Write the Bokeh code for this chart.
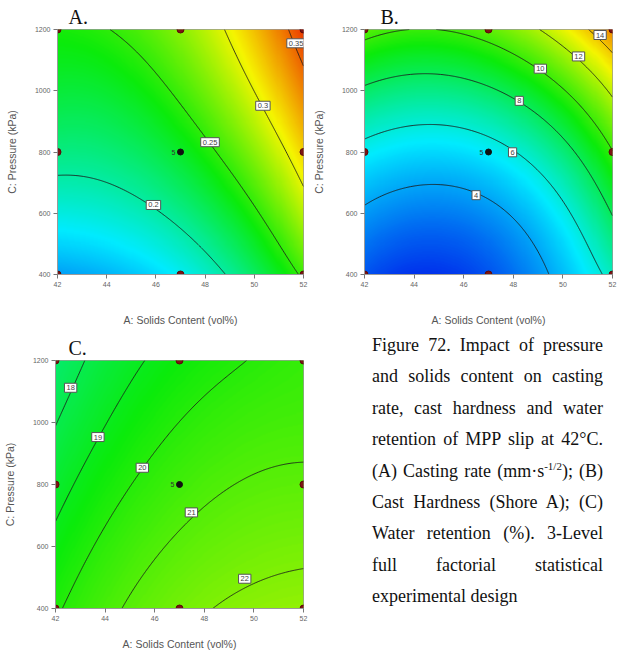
import numpy as np
from bokeh.plotting import figure
from bokeh.models import LinearColorMapper, FixedTicker, Div
from bokeh.layouts import column, row
from bokeh.embed import file_html
from bokeh.resources import INLINE
from bokeh.core.properties import value

# Factor settings of the response grids (A: solids content, C: pressure)
solids = [42, 44.5, 47, 49.5, 52]
pressure = [400, 600, 800, 1000, 1200]

# 3-level full factorial design points
design_solids = [42, 47, 52]
design_pressure = [400, 800, 1200]
center_runs = "5"

# Predicted responses, one row per pressure level (400 -> 1200 kPa)
casting_rate = [
    [0.150, 0.160, 0.178, 0.210, 0.254],
    [0.183, 0.192, 0.204, 0.240, 0.287],
    [0.209, 0.212, 0.232, 0.266, 0.315],
    [0.228, 0.232, 0.257, 0.290, 0.341],
    [0.243, 0.252, 0.275, 0.312, 0.364],
]
cast_hardness = [
    [2.4, 1.8, 2.3, 4.1, 6.4],
    [3.8, 3.1, 3.7, 5.2, 8.1],
    [5.6, 5.0, 5.6, 6.9, 9.95],
    [7.8, 7.2, 7.9, 9.4, 12.3],
    [10.5, 10.0, 10.6, 12.4, 15.2],
]
water_retention = [
    [19.85, 21.0, 21.6, 22.25, 22.35],
    [19.25, 20.45, 21.1, 21.65, 21.8],
    [18.6, 19.8, 20.5, 21.05, 21.15],
    [17.97, 19.18, 20.05, 20.5, 20.72],
    [17.35, 18.6, 19.4, 19.97, 20.35],
]

# Contour levels of each response
levels_a = [0.2, 0.25, 0.3, 0.35]
levels_b = [4, 6, 8, 10, 12, 14]
levels_c = [18, 19, 20, 21, 22]

x_ticks = [42, 44, 46, 48, 50, 52]
y_ticks = [400, 600, 800, 1000, 1200]

caption_lines = [
    "Figure 72. Impact of pressure",
    "and solids content on casting",
    "rate, cast hardness and water",
    "retention of MPP slip at 42°C.",
    "(A) Casting rate (mm·s<sup>-1/2</sup>); (B)",
    "Cast Hardness (Shore A); (C)",
    "Water retention (%). 3-Level",
    "full factorial statistical",
    "experimental design",
]

# blue -> cyan -> green -> yellow -> red ramp
anchors = [(0, 40, 235), (0, 235, 255), (10, 235, 10), (245, 245, 0), (235, 40, 0)]


def ramp(n=256):
    out = []
    for k in range(n):
        t = k / (n - 1) * (len(anchors) - 1)
        i = min(int(t), len(anchors) - 2)
        f = t - i
        c = [round(a + (b - a) * f) for a, b in zip(anchors[i], anchors[i + 1])]
        out.append("#%02x%02x%02x" % tuple(c))
    return out


PALETTE = ramp()


def surface(grid, n=241):
    """Smooth cubic response surface through the tabulated values."""
    z = np.asarray(grid, float)
    u = (np.asarray(solids) - 47) / 5
    v = (np.asarray(pressure) - 800) / 400
    U, V = np.meshgrid(u, v)

    def basis(U, V):
        return np.stack([U.ravel() ** i * V.ravel() ** j
                         for i in range(4) for j in range(4)], axis=1)

    coef, *_ = np.linalg.lstsq(basis(U, V), z.ravel(), rcond=None)
    xf = np.linspace(42, 52, n)
    yf = np.linspace(400, 1200, n)
    Uf, Vf = np.meshgrid((xf - 47) / 5, (yf - 800) / 400)
    zf = (basis(Uf, Vf) @ coef).reshape(Uf.shape)
    return xf, yf, zf


def panel(letter, grid, levels, label_xy, low, high, width, height,
          left, right, top, bottom, letter_dx, xlabel_standoff):
    p = figure(width=width, height=height, x_range=(42, 52), y_range=(400, 1200),
               output_backend="svg", toolbar_location=None,
               min_border_left=left, min_border_right=right,
               min_border_top=top, min_border_bottom=bottom)
    p.title.text = letter
    p.title.text_font = "Liberation Serif"
    p.title.text_font_size = "20px"
    p.title.text_font_style = "normal"
    p.title.text_color = "#111111"
    p.title.offset = letter_dx
    p.title.standoff = 3
    p.grid.visible = False
    p.outline_line_color = "#9a9a9a"
    p.background_fill_color = "white"
    p.border_fill_color = "white"

    xf, yf, zf = surface(grid)
    mapper = LinearColorMapper(palette=PALETTE, low=low, high=high)
    p.image(image=[zf], x=42, y=400, dw=10, dh=800, color_mapper=mapper)
    p.contour(xf, yf, zf, levels, line_color="#1c1c1c", line_width=1, line_alpha=0.85)

    # contour value tags
    p.text(x=[q[0] for q in label_xy], y=[q[1] for q in label_xy],
           text=[f"{lv:g}" for lv in levels],
           text_font=value("Liberation Sans"), text_font_size="7.5px",
           text_align="center", text_baseline="middle", text_color="#444444",
           background_fill_color="white", border_line_color="#555555",
           padding=2)

    # design points
    px = [a for c in design_pressure for a in design_solids]
    py = [c for c in design_pressure for a in design_solids]
    edge = [(a, c) for a, c in zip(px, py) if not (a == 47 and c == 800)]
    p.scatter([e[0] for e in edge], [e[1] for e in edge], size=7,
              color="#7d1414", line_color="#5a0a0a")
    p.scatter([47], [800], size=6, color="#111111")
    p.text(x=[47], y=[800], text=[center_runs], x_offset=-5,
           text_font=value("Liberation Sans"), text_font_size="7px",
           text_align="right", text_baseline="middle", text_color="#333333")

    p.xaxis.ticker = FixedTicker(ticks=x_ticks)
    p.yaxis.ticker = FixedTicker(ticks=y_ticks)
    p.xaxis.axis_label = "A: Solids Content (vol%)"
    p.yaxis.axis_label = "C: Pressure (kPa)"
    for ax in (p.xaxis[0], p.yaxis[0]):
        ax.major_label_text_font = "Liberation Sans"
        ax.major_label_text_font_size = "7px"
        ax.major_label_text_color = "#666666"
        ax.major_label_standoff = 3
        ax.axis_line_color = "#9a9a9a"
        ax.major_tick_line_color = "#777777"
        ax.major_tick_out = 4
        ax.major_tick_in = 0
        ax.minor_tick_line_color = None
        ax.axis_label_text_font = "Liberation Sans"
        ax.axis_label_text_font_size = "10.5px"
        ax.axis_label_text_font_style = "normal"
        ax.axis_label_text_color = "#555555"
    p.yaxis.axis_label_standoff = 14
    p.xaxis.axis_label_standoff = xlabel_standoff
    return p


pA = panel("A.", casting_rate, levels_a,
           [(45.9, 627), (48.2, 832), (50.35, 951), (51.7, 1155)],
           0.11, 0.37, 309, 330, 57, 6, 28, 56, 11, 24)
pB = panel("B.", cast_hardness, levels_b,
           [(46.5, 659), (47.97, 799), (48.24, 967), (49.09, 1072), (50.63, 1112), (51.5, 1182)],
           1.5, 17.0, 309, 330, 55, 6, 29, 52, 16, 24)
pC = panel("C.", water_retention, levels_c,
           [(42.61, 1112), (43.71, 953), (45.5, 854), (47.48, 710), (49.63, 496)],
           9.0, 29.8, 309, 323, 55, 6, 30, 45, 13, 14)

rows_html = []
for i, line in enumerate(caption_lines):
    last = "left" if i == len(caption_lines) - 1 else "justify"
    rows_html.append(
        f'<div style="text-align:justify;text-align-last:{last};white-space:nowrap;">{line}</div>'
    )
caption_html = (
    '<div style="font-family:\'Liberation Serif\',serif;font-size:18px;line-height:31.4px;'
    'color:#111;width:231px;margin-left:63px;padding-top:0px;">'
    + "".join(rows_html).replace("<sup>", '<sup style="font-size:11px;line-height:0;">')
    + "</div>"
)
caption = Div(text=caption_html, width=309, height=323, margin=0)

layout = column(row(pA, pB), row(pC, caption))
open("out.html", "w").write(file_html(layout, INLINE))
